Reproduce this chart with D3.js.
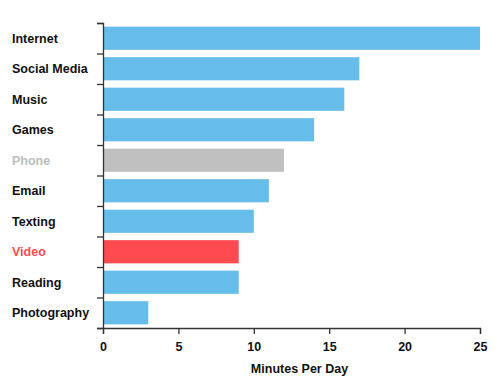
<!DOCTYPE html>
<html>
<head>
<meta charset="utf-8">
<script src="https://cdn.jsdelivr.net/npm/d3@7"></script>
<style>
  body { margin: 0; background: #fff; }
  text { font-family: "Liberation Sans", Arial, sans-serif; }
</style>
</head>
<body>
<svg id="chart"></svg>
<script>
const activities = ["Internet", "Social Media", "Music", "Games", "Phone", "Email", "Texting", "Video", "Reading", "Photography"];
const minutes = [25, 17, 16, 14, 12, 11, 10, 9, 9, 3];
const xTicks = [0, 5, 10, 15, 20, 25];

const blue = "#66bdea", red = "#ff4a50", grey = "#c0c0c0", ink = "#111";
const barColor = name => name === "Video" ? red : name === "Phone" ? grey : blue;
const labelColor = name => name === "Video" ? red : name === "Phone" ? "#bdbdbd" : ink;

const margin = { top: 23, right: 19, bottom: 49, left: 103 },
      width = 499 - margin.left - margin.right,
      height = 377 - margin.top - margin.bottom;

const svg = d3.select("#chart")
  .attr("width", 499)
  .attr("height", 377)
.append("g")
  .attr("transform", `translate(${margin.left},${margin.top})`);

const data = activities.map((a, i) => ({ name: a, value: minutes[i] }));

// Scales
const y = d3.scaleBand()
  .domain(activities)
  .range([0, height])
  .paddingInner(0.24)
  .paddingOuter(0.12);

const yEdge = d3.scaleLinear()
  .domain([0, activities.length])
  .range([0, height]);

const x = d3.scaleLinear()
  .domain([0, 25])
  .range([0, width]);

// Bars
svg.selectAll(".bar")
  .data(data)
  .join("rect")
  .attr("class", "bar")
  .attr("x", 0)
  .attr("y", d => y(d.name))
  .attr("width", d => x(d.value))
  .attr("height", y.bandwidth())
  .attr("fill", d => barColor(d.name));

// Y axis: ticks at band edges
const yAxis = svg.append("g")
  .call(d3.axisLeft(yEdge)
    .tickValues(d3.range(activities.length + 1))
    .tickFormat("")
    .tickSizeOuter(0)
    .tickSize(6));
yAxis.selectAll("path, line").attr("stroke", "#333").attr("stroke-width", 1.3);

// Category labels
svg.selectAll(".label")
  .data(data)
  .join("text")
  .attr("class", "label")
  .attr("x", 12 - margin.left)
  .attr("y", d => y(d.name) + y.bandwidth() / 2)
  .attr("dy", "0.35em")
  .style("font-size", "12.5px")
  .style("font-weight", "bold")
  .attr("fill", d => labelColor(d.name))
  .text(d => d.name);

// X axis
const xAxis = svg.append("g")
  .attr("transform", `translate(0,${height})`)
  .call(d3.axisBottom(x)
    .tickValues(xTicks)
    .tickSizeOuter(0)
    .tickSize(6)
    .tickPadding(8));
xAxis.selectAll("path, line").attr("stroke", "#333").attr("stroke-width", 1.3);
xAxis.selectAll("text")
  .attr("fill", ink)
  .style("font-size", "12.5px")
  .style("font-weight", "bold")
  .style("font-family", "'Liberation Sans', Arial, sans-serif");

// X title
svg.append("text")
  .attr("x", width / 2 + 8)
  .attr("y", height + 45)
  .attr("text-anchor", "middle")
  .style("font-size", "12.5px")
  .style("font-weight", "bold")
  .attr("fill", ink)
  .text("Minutes Per Day");
</script>
</body>
</html>
